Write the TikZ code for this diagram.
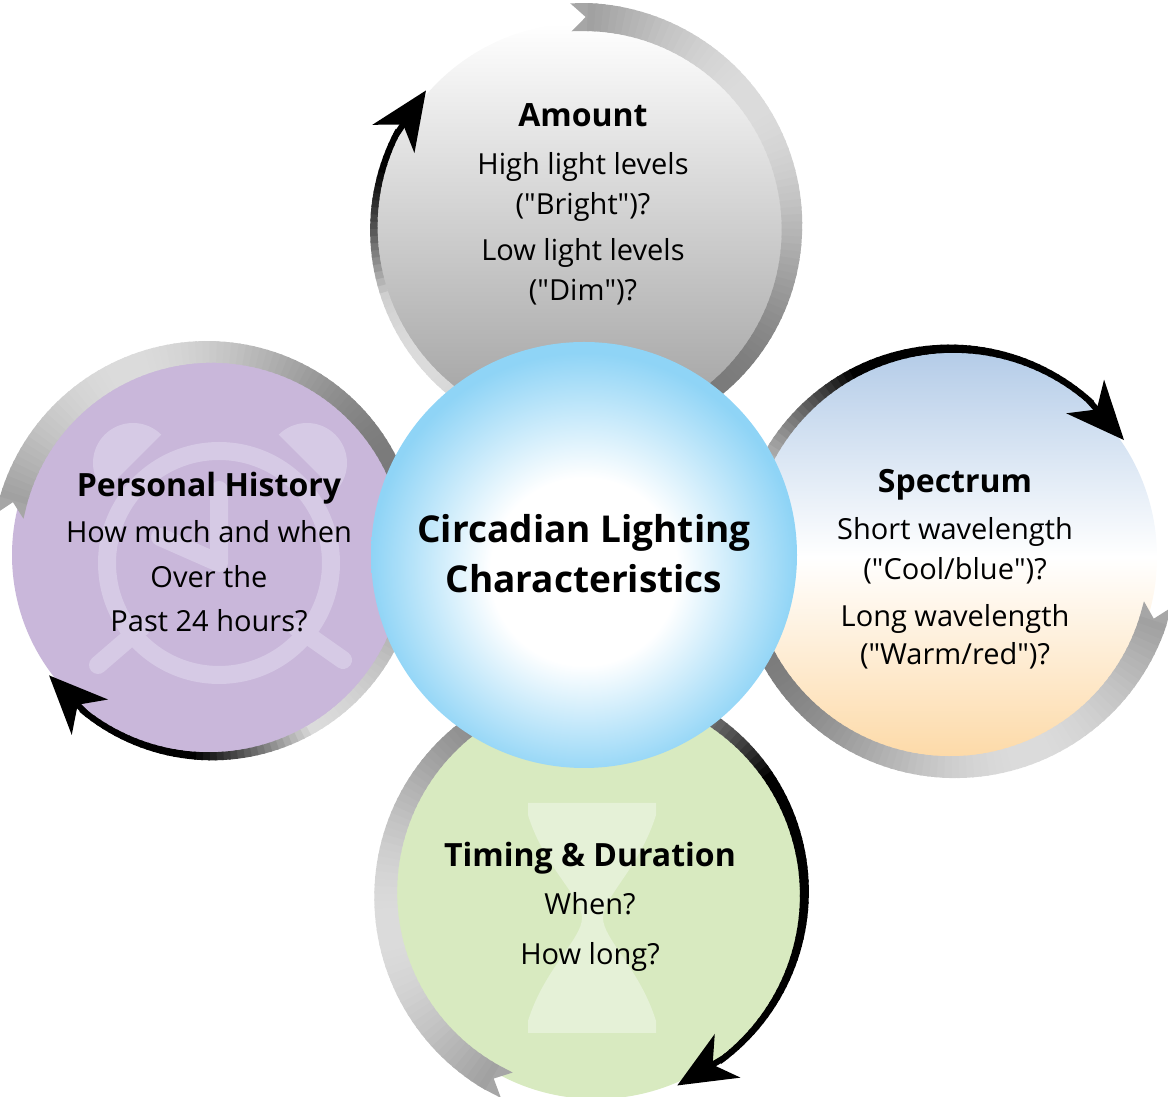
\documentclass[tikz,border=0pt]{standalone}
\usepackage{fontspec}
\setmainfont{Open Sans}
\usetikzlibrary{arrows.meta}

\definecolor{lavender}{RGB}{201,183,218}
\definecolor{lavenderlight}{RGB}{214,202,229}
\definecolor{sage}{RGB}{216,234,192}
\definecolor{sagelight}{RGB}{229,241,215}
\definecolor{skyblue}{RGB}{143,212,246}
\definecolor{coolblue}{RGB}{180,204,232}
\definecolor{warmpeach}{RGB}{253,217,166}

\pgfdeclareradialshading{hubglow}{\pgfpoint{0bp}{-2.5bp}}{%
  color(0bp)=(white); color(11bp)=(white); color(25bp)=(skyblue); color(50bp)=(skyblue)}

\tikzset{
  headtext/.style={anchor=base, font=\fontsize{32}{38}\selectfont\bfseries},
  bodytext/.style={anchor=base, font=\fontsize{29}{34}\selectfont},
  hubtext/.style={anchor=base, font=\fontsize{37}{44}\selectfont\bfseries},
  iconline/.style={line width=18pt, line cap=round, line join=round},
  arrowhead/.style={line width=6pt, -{Stealth[length=58pt,width=50pt,inset=17pt]}}
}

% metallic ring ending in a black arrow
% #1 centre, #2 radius, #3 tail angle, #4 tip angle, #5 where it turns black
\newcommand\ringloop[5]{%
  \begin{scope}[shift={#1}]
    \pgfmathsetmacro\ringsweep{#3-(#4)-18.5}
    \pgfmathsetmacro\ringout{#2+20}
    \pgfmathsetmacro\ringin{#2-8}
    \pgfmathsetmacro\ringmid{#2+6}
    \fill[black!35] (#3:\ringout) -- (#3-5:\ringout) -- (#3-5:\ringin)
      -- (#3:\ringin) -- (#3-4:\ringmid) -- cycle;
    \foreach \i in {0,...,149}{
      \pgfmathsetmacro\ringpos{\i/150}
      \pgfmathsetmacro\ringang{#3-4.5-\ringpos*\ringsweep}
      \pgfmathsetmacro\ringtaper{(1-\ringpos)^1.2}
      \pgfmathsetmacro\ringwid{6+22*\ringtaper}
      \pgfmathsetmacro\ringrad{#2+6+14*\ringtaper-\ringwid/2}
      \pgfmathsetmacro\ringmetal{33-19*sin(600*\ringpos-12)}
      \pgfmathsetmacro\ringfade{min(1,max(0,(\ringpos-#5)/0.12))}
      \pgfmathsetmacro\ringk{\ringmetal+(100-\ringmetal)*\ringfade}
      \draw[line width=\ringwid pt, draw=black!\ringk] (\ringang:\ringrad)
        arc[start angle=\ringang, delta angle=-\ringsweep/150-0.6, radius=\ringrad];
    }
    \pgfmathsetmacro\ringline{#2+3}
    \draw[arrowhead] (#4+15:\ringline) -- (#4:\ringline);
  \end{scope}}

\begin{document}
\begin{tikzpicture}[x=1pt,y=1pt]
  \useasboundingbox (0,0) rectangle (1168,1097);

  \coordinate (amt) at (582,869);
  \coordinate (spc) at (952,540);
  \coordinate (tim) at (596,203);
  \coordinate (phy) at (210,542);
  \coordinate (hub) at (584,542);

  % Amount
  \shade[top color=white, bottom color=black!38] (amt) circle (205);
  \ringloop{(amt)}{205}{93}{-221.4}{0.84}
  \node[headtext] (amthead) at (583,970) {Amount};
  \node[bodytext] (amt1) at (583,922) {High light levels};
  \node[bodytext] (amt2) at (583,882) {(\textquotedbl Bright\textquotedbl)?};
  \node[bodytext] (amt3) at (583,836) {Low light levels};
  \node[bodytext] (amt4) at (583,796) {(\textquotedbl Dim\textquotedbl)?};

  % Spectrum
  \shade[top color=coolblue, bottom color=warmpeach, middle color=white] (spc) circle (205);
  \ringloop{(spc)}{205}{-13}{-325.8}{0.64}
  \node[headtext] (spchead) at (955,604) {Spectrum};
  \node[bodytext] (spc1) at (955,557) {Short wavelength};
  \node[bodytext] (spc2) at (955,517) {(\textquotedbl Cool/blue\textquotedbl)?};
  \node[bodytext] (spc3) at (955,470) {Long wavelength};
  \node[bodytext] (spc4) at (955,432) {(\textquotedbl Warm/red\textquotedbl)?};

  % Timing & Duration
  \fill[sage] (tim) circle (205);
  \fill[sagelight] (528,294) -- (656,294) -- (656,282)
    .. controls (640,230) and (603,200) .. (603,179)
    .. controls (603,158) and (640,128) .. (656,76) -- (656,64) -- (528,64) -- (528,76)
    .. controls (544,128) and (582,158) .. (582,179)
    .. controls (582,200) and (544,230) .. (528,282) -- cycle;
  \ringloop{(tim)}{205}{-115}{-427}{0.58}
  \node[headtext] (timhead) at (590,230) {Timing \& Duration};
  \node[bodytext] (tim1) at (590,182) {When?};
  \node[bodytext] (tim2) at (590,132) {How long?};

  % Personal History
  \fill[lavender] (phy) circle (198);
  \draw[lavenderlight, line width=18pt] (219,534) circle (112);
  \fill[lavenderlight] (133,634) ++(45:40) arc[start angle=45, end angle=225, radius=40] -- cycle;
  \fill[lavenderlight] (307,634) ++(-45:40) arc[start angle=-45, end angle=135, radius=40] -- cycle;
  \draw[lavenderlight, iconline] (142,470) -- (98,432);
  \draw[lavenderlight, iconline] (296,470) -- (343,437);
  \draw[lavenderlight, iconline] (160,560) -- (219,534) -- (219,607);
  \ringloop{(phy)}{198}{169}{-143.2}{0.76}
  \node[headtext] (phyhead) at (209,600) {Personal History};
  \node[bodytext] (phy1) at (209,554) {How much and when};
  \node[bodytext] (phy2) at (209,509) {Over the};
  \node[bodytext] (phy3) at (209,465) {Past 24 hours?};

  % hub
  \shade[shading=hubglow] (hub) circle (213);
  \node[hubtext] (hub1) at (584,554) {Circadian Lighting};
  \node[hubtext] (hub2) at (584,504) {Characteristics};
\end{tikzpicture}
\end{document}
